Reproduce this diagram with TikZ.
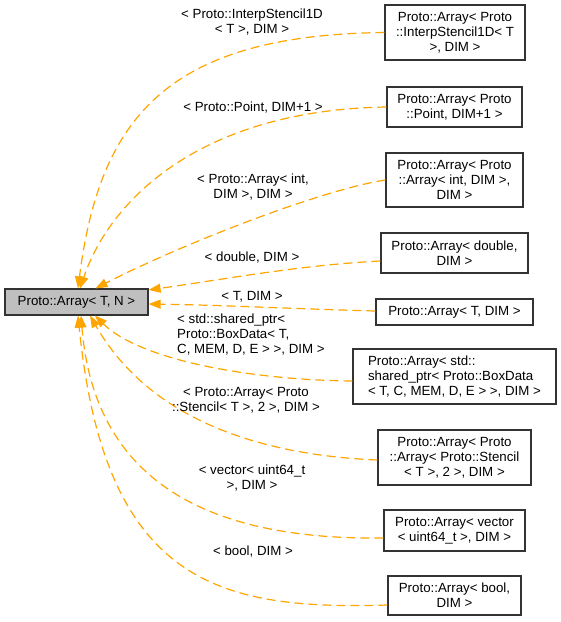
\documentclass[tikz,border=0pt]{standalone}
\usepackage{fontspec}
\setmainfont{Liberation Sans}
\usetikzlibrary{arrows.meta}
\definecolor{edgeorange}{HTML}{FFA500}
\definecolor{maingray}{HTML}{BFBFBF}
\begin{document}
\begin{tikzpicture}[x=1pt,y=-1pt,
  every node/.style={font=\fontsize{13.3}{15}\selectfont, inner sep=0pt},
  box/.style={draw=black!80, line width=1.2pt, align=center, fill=white},
  mainbox/.style={box, fill=maingray},
  lbl/.style={align=center, text=black},
  lbll/.style={align=left, text=black},
  edge/.style={draw=edgeorange, line width=1.2pt, dash pattern=on 9pt off 5pt,
    -{Triangle[length=12pt,width=9pt,fill=edgeorange]}}
]
\useasboundingbox (0,0) rectangle (561,622);

\node[mainbox, minimum width=143pt, minimum height=26pt] (main) at (76.5,302) {Proto::Array< T, N >};

\node[box, minimum width=140pt, minimum height=55pt] (b1) at (455,32.5) {Proto::Array< Proto\\::InterpStencil1D< T\\>, DIM >};
\node[box, minimum width=135pt, minimum height=40pt] (b2) at (454.5,107) {Proto::Array< Proto\\::Point, DIM+1 >};
\node[box, minimum width=137pt, minimum height=54pt] (b3) at (454.5,180) {Proto::Array< Proto\\::Array< int, DIM >,\\DIM >};
\node[box, minimum width=147pt, minimum height=40pt] (b4) at (454.5,253) {Proto::Array< double,\\DIM >};
\node[box, minimum width=157pt, minimum height=26pt] (b5) at (454.5,312) {Proto::Array< T, DIM >};
\node[box, minimum width=203pt, minimum height=55pt, align=left] (b6) at (454.5,376.5) {Proto::Array< std::\\shared\_ptr< Proto::BoxData\\< T, C, MEM, D, E > >, DIM >};
\node[box, minimum width=153pt, minimum height=55pt] (b7) at (454.5,457.5) {Proto::Array< Proto\\::Array< Proto::Stencil\\< T >, 2 >, DIM >};
\node[box, minimum width=141pt, minimum height=41pt] (b8) at (454.5,530.5) {Proto::Array< vector\\< uint64\_t >, DIM >};
\node[box, minimum width=133pt, minimum height=39pt] (b9) at (454.5,595.5) {Proto::Array< bool,\\DIM >};

% edges
\draw[edge] (b1.west) .. controls (170,35) and (100,115) .. ([xshift=1.5pt]main.north);
\draw[edge] (b2.west) .. controls (200,110) and (110,200) .. ([xshift=3.5pt]main.north);
\draw[edge] (b3.west) .. controls (320,190) and (180,245) .. ([xshift=19pt]main.north);
\draw[edge] ([yshift=-8pt]b4.west) .. controls (300,265) and (220,280) .. ([yshift=-1.5pt]main.north east);
\draw[edge] ([yshift=1pt]b5.west) .. controls (300,309) and (220,305) .. ([yshift=-2pt]main.east);
\draw[edge] ([yshift=-4.5pt]b6.west) .. controls (250,380) and (140,360) .. ([xshift=18.5pt]main.south);
\draw[edge] ([yshift=-2.5pt]b7.west) .. controls (260,455) and (150,420) .. ([xshift=13.5pt]main.south);
\draw[edge] ([yshift=-7.5pt]b8.west) .. controls (220,540) and (95,490) .. ([xshift=4.5pt]main.south);
\draw[edge] ([yshift=-9.5pt]b9.west) .. controls (220,610) and (105,585) .. ([xshift=1.5pt]main.south);

% edge labels
\node[lbl] (l1) at (252,22) {< Proto::InterpStencil1D\\< T >, DIM >};
\node[lbl] (l2) at (253,108) {< Proto::Point, DIM+1 >};
\node[lbl] (l3) at (253,187.5) {< Proto::Array< int,\\DIM >, DIM >};
\node[lbl] (l4) at (252,258) {< double, DIM >};
\node[lbl] (l5) at (252,297) {< T, DIM >};
\node[lbll, anchor=west] (l6) at (177,335) {< std::shared\_ptr<\\Proto::BoxData< T,\\C, MEM, D, E > >, DIM >};
\node[lbl] (l7) at (246,400.5) {< Proto::Array< Proto\\::Stencil< T >, 2 >, DIM >};
\node[lbl] (l8) at (252,478) {< vector< uint64\_t\\>, DIM >};
\node[lbl] (l9) at (253,552) {< bool, DIM >};
\end{tikzpicture}
\end{document}
